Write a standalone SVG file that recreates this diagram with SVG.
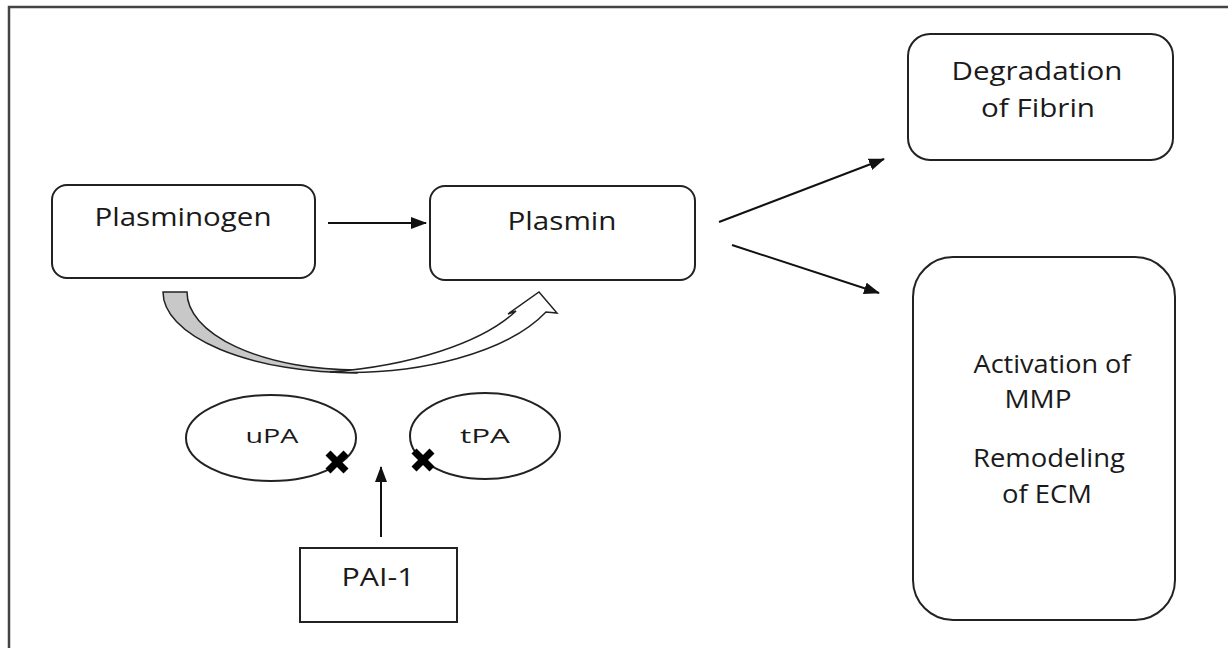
<svg xmlns="http://www.w3.org/2000/svg" width="1228" height="648" viewBox="0 0 1228 648">
<style>
.box{fill:#fff;stroke:#222;stroke-width:2}
.t{font-family:"Open Sans","Liberation Sans",sans-serif;font-size:26px;fill:#1a1a1a;text-anchor:middle}
.ts{font-family:"Open Sans","Liberation Sans",sans-serif;font-size:20px;fill:#1a1a1a;text-anchor:middle}
.ln{stroke:#111;stroke-width:2;fill:none}
.x{stroke:#000;stroke-width:7;stroke-linecap:butt}
</style>
<defs>
<marker id="ah" markerWidth="16" markerHeight="12" refX="15" refY="6" orient="auto" markerUnits="userSpaceOnUse">
<path d="M0,0 L16,6 L0,12 Z" fill="#111"/>
</marker>
</defs>
<rect width="1228" height="648" fill="#fff"/>
<path d="M9,648 L9,7 L1228,7" fill="none" stroke="#444" stroke-width="2.5"/>

<g id="plasminogen">
<rect class="box" x="52" y="185" width="263" height="93" rx="15"/>
<text class="t" x="183" y="226" textLength="177" lengthAdjust="spacingAndGlyphs">Plasminogen</text>
</g>
<g id="plasmin">
<rect class="box" x="430" y="186" width="265" height="94" rx="15"/>
<text class="t" x="562" y="230" textLength="109" lengthAdjust="spacingAndGlyphs">Plasmin</text>
</g>
<g id="fibrin">
<rect class="box" x="908" y="34" width="265" height="126" rx="22"/>
<text class="t" x="1037" y="80" textLength="171" lengthAdjust="spacingAndGlyphs">Degradation</text>
<text class="t" x="1038" y="117" textLength="114" lengthAdjust="spacingAndGlyphs">of Fibrin</text>
</g>
<g id="mmp">
<rect class="box" x="913" y="257" width="262" height="363" rx="40"/>
<text class="t" x="1052" y="373" textLength="157" lengthAdjust="spacingAndGlyphs">Activation of</text>
<text class="t" x="1038" y="408" textLength="67" lengthAdjust="spacingAndGlyphs">MMP</text>
<text class="t" x="1049" y="467" textLength="152" lengthAdjust="spacingAndGlyphs">Remodeling</text>
<text class="t" x="1047" y="503" textLength="90" lengthAdjust="spacingAndGlyphs">of ECM</text>
</g>
<g id="upa">
<ellipse cx="271" cy="438" rx="85" ry="43" fill="#fff" stroke="#222" stroke-width="2"/>
<text class="ts" x="272" y="443" textLength="53" lengthAdjust="spacingAndGlyphs">uPA</text>
<line class="x" x1="328" y1="453" x2="346" y2="471"/>
<line class="x" x1="346" y1="453" x2="328" y2="471"/>
</g>
<g id="tpa">
<ellipse cx="485" cy="436" rx="75" ry="43" fill="#fff" stroke="#222" stroke-width="2"/>
<text class="ts" x="485" y="443" textLength="50" lengthAdjust="spacingAndGlyphs">tPA</text>
<line class="x" x1="414" y1="451" x2="432" y2="469"/>
<line class="x" x1="432" y1="451" x2="414" y2="469"/>
</g>
<g id="pai1">
<rect x="300" y="548" width="157" height="74" fill="#fff" stroke="#222" stroke-width="2"/>
<text class="t" x="378" y="586" textLength="73" lengthAdjust="spacingAndGlyphs">PAI-1</text>
</g>
<g id="curved-arrow">
<path d="M163,292 L187,292 A170,78 0 0 0 357,370 L357,373 A194,81 0 0 1 163,292 Z" fill="#c8c8c8" stroke="#222" stroke-width="1.5"/>
<path d="M330,372 C420,376 508,352 546,312 L557,313 L539,292 L508,314 L516,311 C482,343 410,366 330,372 Z" fill="#fff" stroke="#222" stroke-width="1.5"/>
</g>
<g id="connectors">
<line class="ln" x1="328" y1="223" x2="426" y2="223" marker-end="url(#ah)"/>
<line class="ln" x1="719" y1="222" x2="884" y2="159" marker-end="url(#ah)"/>
<line class="ln" x1="732" y1="245" x2="879" y2="293" marker-end="url(#ah)"/>
<line class="ln" x1="381" y1="537" x2="381" y2="467" marker-end="url(#ah)"/>
</g>
</svg>
